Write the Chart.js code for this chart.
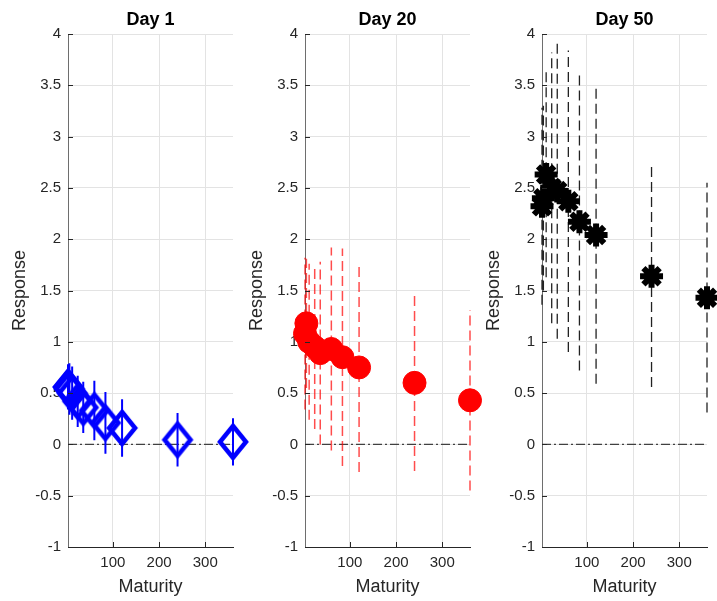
<!DOCTYPE html>
<html>
<head>
<meta charset="utf-8">
<script src="https://cdn.jsdelivr.net/npm/chart.js@4"></script>
<style>
  html, body { margin: 0; padding: 0; background: #fff; overflow: hidden; }
  #fig { position: relative; width: 717px; height: 601px; overflow: hidden; }
  .panel { position: absolute; top: 0; }
</style>
</head>
<body>
<div id="fig">
  <canvas id="p1" class="panel" width="263" height="601" style="left:0px"></canvas>
  <canvas id="p2" class="panel" width="263" height="601" style="left:237px"></canvas>
  <canvas id="p3" class="panel" width="263" height="601" style="left:474px"></canvas>
</div>
<script>
// ==========================================
// Data
// ==========================================
const maturities = [3, 6, 12, 24, 36, 60, 84, 120, 240, 360];

const day1Resp = [0.56, 0.54, 0.50, 0.42, 0.36, 0.33, 0.21, 0.16, 0.045, 0.025];
const day1Err  = [0.22, 0.25, 0.26, 0.25, 0.25, 0.29, 0.30, 0.28, 0.26, 0.23];

const day20Resp = [1.08, 1.18, 1.00, 0.95, 0.89, 0.93, 0.85, 0.75, 0.60, 0.43];
const day20Err  = [0.74, 0.63, 0.76, 0.80, 0.89, 0.99, 1.06, 1.02, 0.86, 0.88];

const day50Resp = [2.32, 2.40, 2.63, 2.50, 2.47, 2.37, 2.17, 2.04, 1.64, 1.43];
const day50Err  = [0.96, 0.90, 1.00, 1.32, 1.44, 1.47, 1.45, 1.45, 1.08, 1.12];

const panelTitles = ['Day 1', 'Day 20', 'Day 50'];
const xTicks = [100, 200, 300];
const xRange = [3, 360];
const yRange = [-1, 4];

// ==========================================
// Styling helpers
// ==========================================
const FONT = "'Liberation Sans', Arial, Helvetica, sans-serif";
const AX = '#262626';

// hollow blue diamond, a bit taller than wide like the MATLAB marker
function makeDiamond() {
  const c = document.createElement('canvas');
  c.width = 38; c.height = 46;
  const g = c.getContext('2d');
  g.strokeStyle = '#0000ff';
  g.lineWidth = 4.5;
  g.beginPath();
  g.moveTo(19, 23 - 16);
  g.lineTo(19 + 13, 23);
  g.lineTo(19, 23 + 16);
  g.lineTo(19 - 13, 23);
  g.closePath();
  g.stroke();
  return c;
}

// turn response +- error into a broken line (null splits the bars)
function errorSegments(resp, err) {
  const pts = [];
  maturities.forEach((m, i) => {
    pts.push({ x: m, y: resp[i] - err[i] });
    pts.push({ x: m, y: resp[i] + err[i] });
    pts.push({ x: m, y: null });
  });
  return pts;
}

// small inward tick marks, matlab style
const inTicks = {
  id: 'inTicks',
  afterDraw(chart) {
    const { ctx, chartArea: a, scales } = chart;
    ctx.save();
    ctx.strokeStyle = AX;
    ctx.lineWidth = 1;
    ctx.beginPath();
    scales.x.ticks.forEach(t => {
      const px = Math.round(scales.x.getPixelForValue(t.value)) + 0.5;
      ctx.moveTo(px, a.bottom);
      ctx.lineTo(px, a.bottom - 5);
    });
    scales.y.ticks.forEach(t => {
      const py = Math.round(scales.y.getPixelForValue(t.value)) + 0.5;
      ctx.moveTo(a.left, py);
      ctx.lineTo(a.left + 5, py);
    });
    ctx.stroke();
    ctx.restore();
  }
};

// title centred over the plot box (not the whole canvas)
const axTitle = {
  id: 'axTitle',
  afterDraw(chart, args, opts) {
    const { ctx, chartArea: a } = chart;
    ctx.save();
    ctx.fillStyle = '#000';
    ctx.font = 'bold 18px ' + FONT;
    ctx.textAlign = 'center';
    ctx.textBaseline = 'middle';
    ctx.fillText(opts.text, (a.left + a.right) / 2, a.top - 14);
    ctx.restore();
  }
};

/**
 * build one subplot
 */
function makePanel(id, title, resp, err, marker, bar) {
  const markerSet = Object.assign({
    type: 'scatter',
    data: maturities.map((m, i) => ({ x: m, y: resp[i] })),
    showLine: false,
    clip: false
  }, marker);

  const barSet = Object.assign({
    type: 'line',
    data: errorSegments(resp, err),
    pointRadius: 0,
    spanGaps: false,
    fill: false,
    clip: false
  }, bar);

  const zeroSet = {
    type: 'line',
    data: [{ x: xRange[0], y: 0 }, { x: xRange[1], y: 0 }],
    borderColor: '#404040',
    borderWidth: 1.3,
    borderDash: [9, 3, 2, 3],
    pointRadius: 0
  };

  return new Chart(document.getElementById(id), {
    type: 'scatter',
    data: { datasets: [markerSet, barSet, zeroSet] },
    options: {
      responsive: false,
      animation: false,
      layout: { padding: { left: 0, right: 30, top: 34, bottom: 0 } },
      plugins: {
        legend: { display: false },
        tooltip: { enabled: false },
        title: { display: false },
        axTitle: { text: title }
      },
      scales: {
        x: {
          type: 'linear',
          min: xRange[0],
          max: xRange[1],
          afterBuildTicks: s => { s.ticks = xTicks.map(v => ({ value: v })); },
          afterFit: s => { s.height = 54; },
          ticks: { color: AX, font: { family: FONT, size: 15 }, padding: 7 },
          grid: { color: '#e3e3e3', drawTicks: false },
          border: { display: true, color: AX, width: 1 },
          title: {
            display: true,
            text: 'Maturity',
            color: AX,
            font: { family: FONT, size: 18 },
            padding: { top: 0, bottom: 3 }
          }
        },
        y: {
          type: 'linear',
          min: yRange[0],
          max: yRange[1],
          afterFit: s => { s.width = 68; },
          ticks: {
            stepSize: 0.5,
            color: AX,
            font: { family: FONT, size: 15 },
            padding: 7,
            callback: v => String(v)
          },
          grid: { color: '#e3e3e3', drawTicks: false },
          border: { display: true, color: '#6e6e6e', width: 1 },
          title: {
            display: true,
            text: 'Response',
            color: AX,
            font: { family: FONT, size: 18 },
            padding: { top: 9, bottom: 0 }
          }
        }
      }
    },
    plugins: [inTicks, axTitle]
  });
}

// ==========================================
// The three subplots
// ==========================================
makePanel('p1', panelTitles[0], day1Resp, day1Err,
  { pointStyle: makeDiamond(), pointRadius: 15 },
  { borderColor: '#0000ff', borderWidth: 2 });

makePanel('p2', panelTitles[1], day20Resp, day20Err,
  { pointStyle: 'circle', pointRadius: 11.5, backgroundColor: '#ff0000', borderColor: '#ff0000', borderWidth: 1 },
  { borderColor: 'rgba(255,0,0,0.7)', borderWidth: 1.5, borderDash: [10, 5] });

makePanel('p3', panelTitles[2], day50Resp, day50Err,
  { pointStyle: 'star', pointRadius: 11.5, borderColor: '#000', backgroundColor: '#000', borderWidth: 6 },
  { borderColor: '#222', borderWidth: 1.3, borderDash: [10, 5] });
</script>
</body>
</html>
